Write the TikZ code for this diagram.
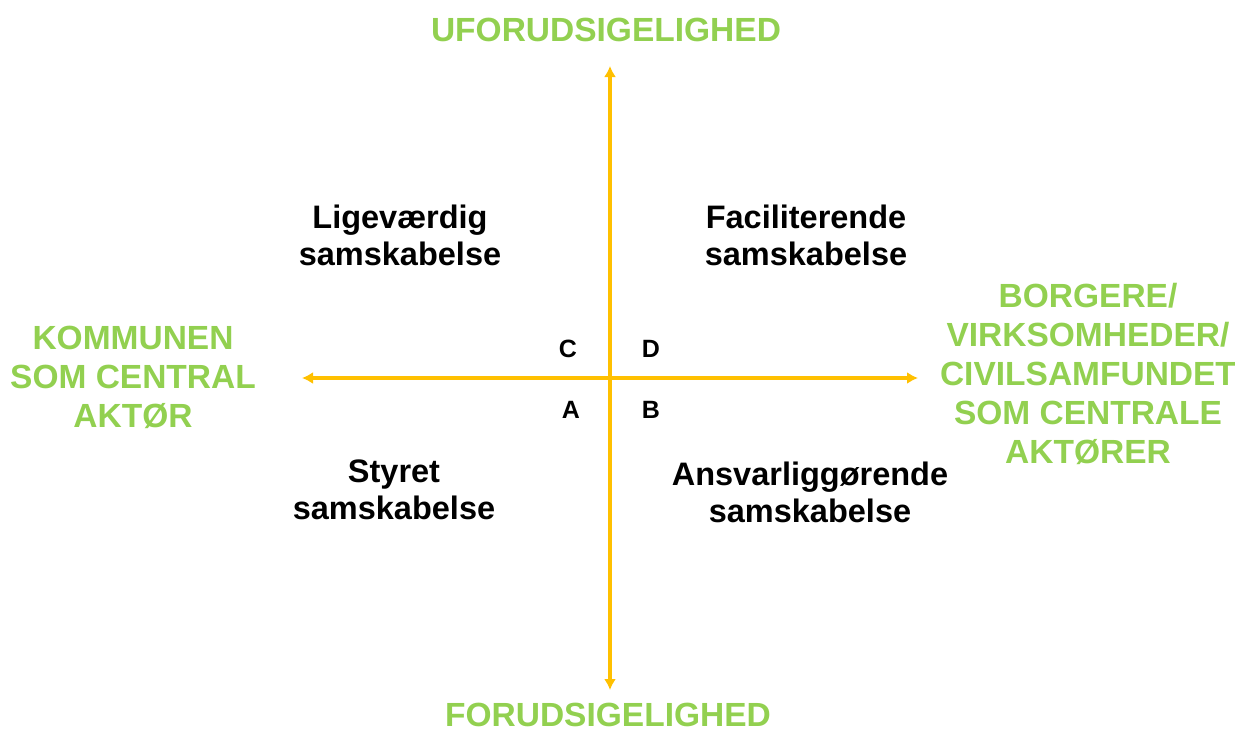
\documentclass[tikz,border=0pt]{standalone}
\usepackage{fontspec}
\setmainfont{Liberation Sans}
\usetikzlibrary{arrows.meta}
\definecolor{axisyellow}{HTML}{FFC000}
\definecolor{labelgreen}{HTML}{92D050}

\begin{document}
\begin{tikzpicture}[x=1pt, y=-1pt]

\tikzset{axis/.style = {<->, >={Latex[length=11pt,width=12pt]}, draw=axisyellow, line width=3.6pt}}
\tikzset{pole/.style = {text=labelgreen, font=\fontsize{33.5}{39}\selectfont\bfseries, align=center, inner sep=0}}
\tikzset{field/.style = {font=\fontsize{32.5}{37}\selectfont\bfseries, align=center, inner sep=0}}
\tikzset{corner/.style = {font=\fontsize{25}{26}\selectfont\bfseries, inner sep=0}}

\useasboundingbox (0,0) rectangle (1235,734);

%axes
\coordinate (top) at (610,66);
\coordinate (bottom) at (610,690);
\coordinate (left) at (302,378);
\coordinate (right) at (918,378);
\draw[axis] (bottom) -- (top);
\draw[axis] (left) -- (right);

%poles
\node[pole] (unpred) at (606,30) {UFORUDSIGELIGHED};
\node[pole] (pred) at (608,715) {FORUDSIGELIGHED};
\node[pole] (kommune) at (133,377) {KOMMUNEN\\SOM CENTRAL\\AKTØR};
\node[pole] (borgere) at (1088,374) {BORGERE/\\VIRKSOMHEDER/\\CIVILSAMFUNDET\\SOM CENTRALE\\AKTØRER};

%quadrants
\node[field] (ligevaerdig) at (400,235) {Ligeværdig\\samskabelse};
\node[field] (faciliterende) at (806,235) {Faciliterende\\samskabelse};
\node[field] (styret) at (394,490) {Styret\\samskabelse};
\node[field] (ansvar) at (810,492) {Ansvarliggørende\\samskabelse};

%letters
\node[corner] (C) at (568,349) {C};
\node[corner] (D) at (651,349) {D};
\node[corner] (A) at (571,410) {A};
\node[corner] (B) at (651,410) {B};

\end{tikzpicture}
\end{document}
